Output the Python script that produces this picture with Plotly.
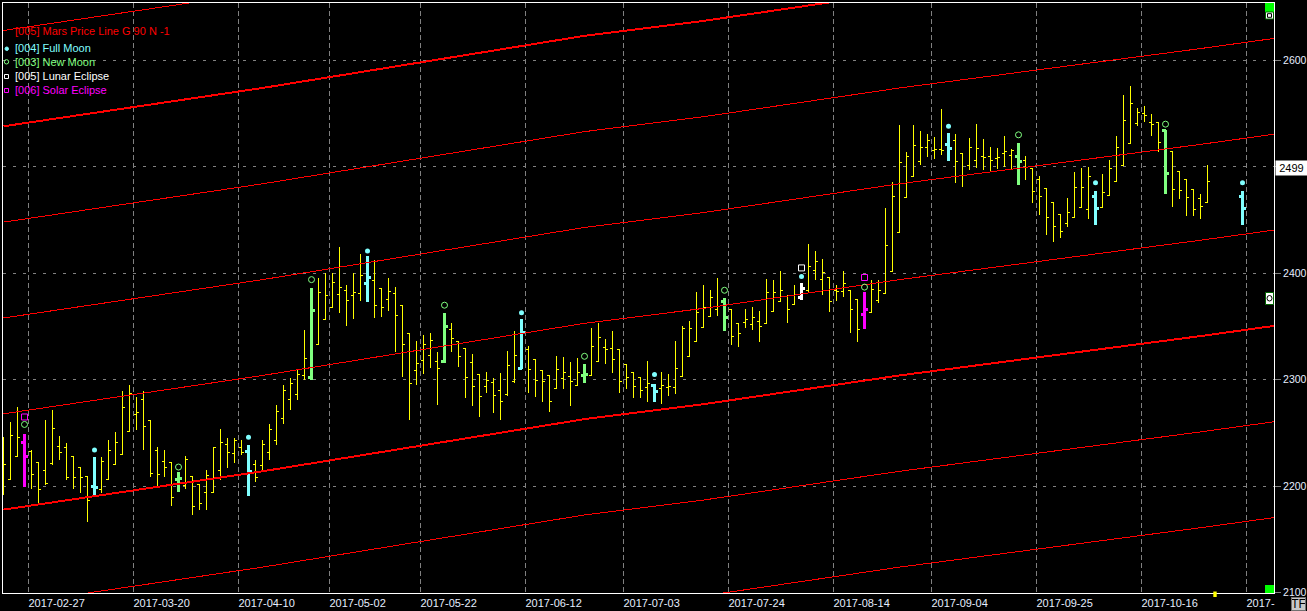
import plotly.graph_objects as go

# ---------------- data ----------------
# bar index 0 = 2017-02-24 (trading-day axis)
bar_idx = list(range(-3, 170))
highs = [2246, 2260, 2274, 2249, 2234, 2222, 2262, 2272, 2247, 2241, 2228, 2218, 2209, 2227, 2227, 2243, 2251, 2289, 2295, 2284,
         2289, 2262, 2237, 2234, 2222, 2213, 2228, 2210, 2202, 2215, 2237, 2254, 2245, 2245, 2243, 2239, 2225, 2243, 2258, 2276,
         2295, 2302, 2309, 2347, 2386, 2396, 2400, 2400, 2425, 2389, 2400, 2418, 2416, 2412, 2386, 2396, 2387, 2370, 2343, 2336,
         2342, 2344, 2326, 2363, 2353, 2336, 2329, 2324, 2305, 2307, 2302, 2306, 2327, 2346, 2357, 2332, 2319, 2309, 2304, 2322,
         2321, 2317, 2320, 2315, 2349, 2353, 2338, 2346, 2328, 2314, 2307, 2302, 2318, 2296, 2307, 2305, 2336, 2350, 2355, 2382,
         2389, 2384, 2396, 2377, 2366, 2353, 2366, 2368, 2365, 2395, 2394, 2402, 2380, 2389, 2391, 2427, 2421, 2413, 2396, 2389,
         2402, 2384, 2375, 2382, 2394, 2394, 2461, 2486, 2539, 2514, 2539, 2534, 2531, 2528, 2554, 2532, 2531, 2512, 2527, 2540,
         2526, 2519, 2518, 2529, 2517, 2522, 2510, 2499, 2491, 2480, 2466, 2455, 2471, 2495, 2499, 2500, 2477, 2493, 2506, 2529,
         2567, 2576, 2555, 2557, 2550, 2542, 2535, 2514, 2496, 2488, 2479, 2474, 2502]
lows = [2192, 2206, 2228, 2199, 2197, 2184, 2201, 2220, 2225, 2206, 2197, 2194, 2166, 2191, 2194, 2206, 2220, 2230, 2251, 2253,
        2234, 2209, 2199, 2209, 2181, 2195, 2197, 2173, 2178, 2178, 2194, 2206, 2217, 2222, 2229, 2191, 2204, 2215, 2225, 2239,
        2258, 2272, 2281, 2300, 2300, 2333, 2357, 2368, 2363, 2350, 2357, 2374, 2373, 2358, 2359, 2365, 2326, 2303, 2262, 2295,
        2305, 2311, 2276, 2316, 2326, 2312, 2283, 2275, 2265, 2288, 2269, 2262, 2285, 2297, 2310, 2288, 2284, 2279, 2270, 2292,
        2291, 2275, 2295, 2297, 2304, 2317, 2315, 2306, 2288, 2291, 2283, 2283, 2279, 2279, 2277, 2285, 2287, 2303, 2322, 2336,
        2349, 2359, 2360, 2346, 2333, 2331, 2349, 2347, 2335, 2353, 2364, 2373, 2353, 2371, 2375, 2382, 2394, 2380, 2364, 2374,
        2378, 2344, 2335, 2348, 2363, 2372, 2381, 2402, 2438, 2471, 2491, 2502, 2509, 2507, 2511, 2505, 2485, 2481, 2497, 2499,
        2497, 2496, 2498, 2500, 2497, 2483, 2488, 2466, 2455, 2436, 2429, 2433, 2443, 2452, 2462, 2451, 2445, 2461, 2473, 2486,
        2501, 2522, 2538, 2542, 2529, 2514, 2474, 2462, 2470, 2454, 2454, 2451, 2466]
opens = [2192, 2206, 2228, 2241, 2233, 2222, 2215, 2221, 2237, 2236, 2228, 2218, 2209, 2200, 2197, 2206, 2220, 2230, 2251, 2267,
         2281, 2262, 2234, 2223, 2222, 2206, 2201, 2209, 2202, 2194, 2194, 2215, 2239, 2231, 2236, 2233, 2220, 2219, 2232, 2243,
         2264, 2281, 2286, 2304, 2302, 2333, 2357, 2368, 2380, 2384, 2379, 2381, 2390, 2393, 2386, 2375, 2381, 2370, 2343, 2309,
         2318, 2323, 2317, 2317, 2347, 2336, 2329, 2316, 2305, 2294, 2297, 2290, 2286, 2298, 2311, 2328, 2319, 2309, 2304, 2292,
         2301, 2303, 2295, 2304, 2304, 2317, 2330, 2329, 2328, 2314, 2307, 2302, 2293, 2295, 2292, 2293, 2293, 2303, 2322, 2336,
         2349, 2359, 2366, 2373, 2366, 2353, 2354, 2352, 2355, 2353, 2364, 2373, 2378, 2371, 2377, 2384, 2403, 2394, 2396, 2384,
         2383, 2384, 2375, 2361, 2363, 2374, 2381, 2402, 2438, 2471, 2491, 2505, 2518, 2515, 2516, 2521, 2525, 2512, 2501, 2506,
         2510, 2510, 2508, 2512, 2511, 2510, 2506, 2498, 2488, 2480, 2466, 2455, 2447, 2452, 2462, 2460, 2472, 2462, 2473, 2486,
         2501, 2522, 2541, 2550, 2542, 2542, 2534, 2514, 2496, 2488, 2479, 2470, 2466]
closes = [2220, 2248, 2246, 2228, 2211, 2197, 2203, 2254, 2232, 2208, 2208, 2208, 2187, 2199, 2223, 2234, 2241, 2274, 2287, 2269,
          2256, 2212, 2211, 2218, 2189, 2207, 2225, 2181, 2184, 2210, 2236, 2241, 2232, 2243, 2232, 2214, 2208, 2239, 2253, 2270,
          2290, 2296, 2305, 2320, 2365, 2382, 2379, 2391, 2387, 2374, 2382, 2398, 2396, 2370, 2368, 2383, 2360, 2333, 2296, 2315,
          2333, 2337, 2311, 2350, 2339, 2322, 2302, 2294, 2284, 2299, 2285, 2280, 2313, 2323, 2344, 2310, 2299, 2298, 2280, 2310,
          2307, 2298, 2307, 2305, 2331, 2340, 2328, 2319, 2298, 2302, 2294, 2290, 2296, 2289, 2295, 2294, 2311, 2348, 2348, 2363,
          2368, 2377, 2369, 2358, 2341, 2343, 2357, 2358, 2350, 2382, 2382, 2384, 2366, 2380, 2386, 2406, 2411, 2401, 2373, 2383,
          2390, 2366, 2347, 2366, 2385, 2384, 2426, 2472, 2504, 2510, 2520, 2518, 2525, 2516, 2515, 2517, 2505, 2492, 2518, 2517,
          2509, 2506, 2509, 2514, 2515, 2505, 2499, 2477, 2472, 2452, 2444, 2439, 2457, 2481, 2481, 2491, 2461, 2476, 2498, 2518,
          2543, 2559, 2551, 2548, 2540, 2523, 2494, 2479, 2478, 2471, 2460, 2463, 2486]

# projected bar drawn after the last trading day
proj_idx = [174]
proj_high = [2477]
proj_low = [2445]
proj_open = [2472]
proj_close = [2461]

# astro event bars / markers
full_moon_idx = [10, 32, 49, 71, 90, 111, 132, 153, 174]
full_moon_px = [2234, 2246, 2421, 2363, 2305, 2397, 2538, 2485, 2485]
new_moon_idx = [0, 22, 41, 60, 80, 100, 120, 142, 163]
new_moon_px = [2258, 2218, 2394, 2370, 2322, 2384, 2387, 2530, 2540]
lunar_ecl_idx = [111]
lunar_ecl_px = [2405]
solar_ecl_idx = [0, 120]
solar_ecl_px = [2265, 2396]

cyan_bars = [10, 32, 49, 71, 90, 132, 153]
green_bars = [22, 41, 60, 80, 100, 142, 163]
magenta_bars = [0, 120]
white_bars = [111]

# Mars price line (gap 90) — base line anchors
mars_idx = [-3, 34, 65, 80, 97, 125, 168, 179]
mars_base = [2178, 2214, 2247, 2263, 2277, 2304, 2341, 2351]
mars_offsets = [-180, -90, 0, 90, 180, 270, 360, 450]
mars_thick = [0, 360]

# x axis tick labels (first bar of the week)
tick_idx = [1, 16, 31, 44, 57, 72, 86, 101, 116, 130, 145, 160, 175]
tick_text = ["2017-02-27", "2017-03-20", "2017-04-10", "2017-05-02", "2017-05-22", "2017-06-12",
             "2017-07-03", "2017-07-24", "2017-08-14", "2017-09-04", "2017-09-25", "2017-10-16", "2017-"]
y_ticks = [2100, 2200, 2300, 2400, 2500, 2600]
y_tick_text = ["2100", "2200", "2300", "2400", "", "2600"]   # 2500 hidden under the last-price box
last_price = 2499

# ---------------- styling ----------------
W, H = 1307, 611
L, R, T, B = 3, 33, 3, 18
PW, PH = W - L - R, H - T - B
FONT = "Arial, Liberation Sans, sans-serif"
CYAN, GREEN, MAG, WHITE, YEL, RED = "#80FFFF", "#80FF80", "#FF00FF", "#FFFFFF", "#FFFF00", "#FF0000"


def px(x):
    return (x - L) / PW


def py(y):
    return (H - B - y) / PH


fig = go.Figure()

# Mars lines
for off in mars_offsets:
    fig.add_trace(go.Scatter(
        x=mars_idx, y=[v + off for v in mars_base], mode="lines",
        line=dict(color=RED, width=2.0 if off in mars_thick else 1.0),
        hoverinfo="skip"))

event_set = set(cyan_bars + green_bars + magenta_bars + white_bars)
pos = {b: k for k, b in enumerate(bar_idx)}


def ohlc_trace(idxs, color, width, tw, o=None, h=None, l=None, c=None):
    if o is None:
        o = [opens[pos[i]] for i in idxs]
        h = [highs[pos[i]] for i in idxs]
        l = [lows[pos[i]] for i in idxs]
        c = [closes[pos[i]] for i in idxs]
    return go.Ohlc(x=idxs, open=o, high=h, low=l, close=c, tickwidth=tw,
                   line=dict(width=width),
                   increasing=dict(line=dict(color=color, width=width)),
                   decreasing=dict(line=dict(color=color, width=width)),
                   hoverinfo="skip")


plain = [i for i in bar_idx if i not in event_set]
fig.add_trace(ohlc_trace(plain, YEL, 1, 0.4))
fig.add_trace(ohlc_trace(cyan_bars, CYAN, 3, 0.5))
fig.add_trace(ohlc_trace(proj_idx, CYAN, 3, 0.5, proj_open, proj_high, proj_low, proj_close))
fig.add_trace(ohlc_trace(green_bars, GREEN, 3, 0.5))
fig.add_trace(ohlc_trace(magenta_bars, MAG, 3, 0.5))
fig.add_trace(ohlc_trace(white_bars, WHITE, 3, 0.5))

# markers
fig.add_trace(go.Scatter(x=full_moon_idx, y=full_moon_px, mode="markers",
                         marker=dict(symbol="circle", size=5, color=CYAN), hoverinfo="skip"))
fig.add_trace(go.Scatter(x=new_moon_idx, y=new_moon_px, mode="markers",
                         marker=dict(symbol="circle-open", size=6, color=GREEN, line=dict(width=1)), hoverinfo="skip"))
fig.add_trace(go.Scatter(x=lunar_ecl_idx, y=lunar_ecl_px, mode="markers",
                         marker=dict(symbol="square-open", size=6, color=WHITE, line=dict(width=1)), hoverinfo="skip"))
fig.add_trace(go.Scatter(x=solar_ecl_idx, y=solar_ecl_px, mode="markers",
                         marker=dict(symbol="square-open", size=6, color=MAG, line=dict(width=1)), hoverinfo="skip"))

x0 = -3 - 0.5 / 7
fig.update_layout(
    width=W, height=H, margin=dict(l=L, r=R, t=T, b=B, autoexpand=False),
    paper_bgcolor="black", plot_bgcolor="black", showlegend=False,
    font=dict(family=FONT, size=11, color="#E6EEFF"),
    xaxis=dict(range=[x0, x0 + PW / 7.0], tickmode="array",
               tickvals=[t - 0.5 for t in tick_idx], ticktext=tick_text,
               showgrid=True, gridcolor="#808080", gridwidth=1, griddash="5px,3px",
               zeroline=False, showline=True, linecolor="white", linewidth=1, mirror=True,
               ticks="", ticklabelposition="outside right", automargin=False,
               tickfont=dict(size=11, color="#E6EEFF"),
               rangeslider=dict(visible=False), fixedrange=True),
    yaxis=dict(side="right", range=[2099.7, 2653.8], tickmode="array", tickvals=y_ticks,
               ticktext=y_tick_text, automargin=False,
               showgrid=True, gridcolor="#808080", gridwidth=1, griddash="3px,7px",
               zeroline=False, showline=True, linecolor="white", linewidth=1, mirror=True,
               ticks="outside", ticklen=6, tickcolor="#808080", ticklabelstandoff=0,
               tickfont=dict(size=10.5, color="#E6EEFF"), fixedrange=True),
)

# legend texts
legend = [("[005] Mars Price Line G 90 N -1", RED, 31),
          ("[004] Full Moon", CYAN, 48),
          ("[003] New Moon", GREEN, 62),
          ("[005] Lunar Eclipse", WHITE, 76),
          ("[006] Solar Eclipse", MAG, 90)]
for txt, col, yy in legend:
    fig.add_annotation(xref="paper", yref="paper", x=px(13), y=py(yy), text=txt,
                       showarrow=False, xanchor="left", yanchor="middle",
                       font=dict(family=FONT, size=11, color=col))

shapes = []
shapes.append(dict(type="circle", xref="paper", yref="paper", x0=px(5), x1=px(8.5), y0=py(50.5), y1=py(47),
                   fillcolor=CYAN, line=dict(color=CYAN, width=1)))
shapes.append(dict(type="circle", xref="paper", yref="paper", x0=px(4.3), x1=px(8.7), y0=py(64), y1=py(59.6),
                   line=dict(color=GREEN, width=1)))
shapes.append(dict(type="rect", xref="paper", yref="paper", x0=px(4.5), x1=px(8.5), y0=py(78.5), y1=py(74.5),
                   line=dict(color=WHITE, width=1)))
shapes.append(dict(type="rect", xref="paper", yref="paper", x0=px(4.5), x1=px(8.5), y0=py(92.5), y1=py(88.5),
                   line=dict(color=MAG, width=1)))
# right-side widgets
shapes.append(dict(type="rect", xref="paper", yref="paper", x0=px(1265), x1=px(1274), y0=py(12), y1=py(3),
                   fillcolor="#00FF00", line=dict(width=0)))
shapes.append(dict(type="rect", xref="paper", yref="paper", x0=px(1265.5), x1=px(1273.5), y0=py(19), y1=py(12),
                   fillcolor="white", line=dict(color="#006400", width=1)))
shapes.append(dict(type="rect", xref="paper", yref="paper", x0=px(1267.5), x1=px(1271.5), y0=py(17.3), y1=py(13.7),
                   line=dict(color="black", width=1)))
shapes.append(dict(type="rect", xref="paper", yref="paper", x0=px(1265.5), x1=px(1273.5), y0=py(304.5), y1=py(292.5),
                   fillcolor="white", line=dict(color="#006400", width=1)))
shapes.append(dict(type="circle", xref="paper", yref="paper", x0=px(1267), x1=px(1272), y0=py(301), y1=py(295.5),
                   line=dict(color="black", width=1)))
shapes.append(dict(type="rect", xref="paper", yref="paper", x0=px(1265), x1=px(1274), y0=py(593), y1=py(585),
                   fillcolor="#00FF00", line=dict(width=0)))
shapes.append(dict(type="rect", xref="paper", yref="paper", x0=px(1213.3), x1=px(1216.7), y0=py(597), y1=py(591.5),
                   fillcolor=YEL, line=dict(width=0)))
fig.update_layout(shapes=shapes)

# last price box
fig.add_annotation(xref="paper", yref="y", x=px(1291.5), y=last_price, text=str(last_price),
                   showarrow=False, xanchor="center", yanchor="middle", bgcolor="white",
                   width=29, height=12, borderpad=1, font=dict(family=FONT, size=11, color="black"))
# TF button
fig.add_annotation(xref="paper", yref="paper", x=px(1298), y=py(604), text="TF",
                   showarrow=False, xanchor="center", yanchor="middle", bgcolor="#C8C8C8",
                   bordercolor="#707070", borderwidth=1, width=13, height=12, borderpad=0,
                   font=dict(family=FONT, size=12, color="black"))

post = ("document.body.style.margin='0px';document.body.style.padding='0px';"
        "document.body.style.overflow='hidden';"
        "var s=document.createElement('style');"
        "s.innerHTML='.ohlc path{shape-rendering:crispEdges !important;} "
        ".scatterlayer .js-line{shape-rendering:crispEdges !important;}';"
        "document.head.appendChild(s);")
fig.write_html("out.html", config={"displayModeBar": False, "staticPlot": True}, post_script=post)
